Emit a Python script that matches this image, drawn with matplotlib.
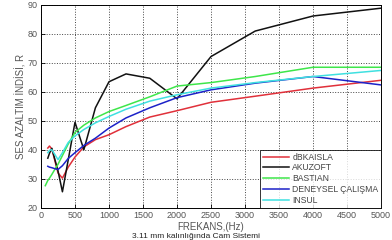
import numpy as np
import matplotlib
matplotlib.use('Agg')
import matplotlib.pyplot as plt

plt.rcParams['font.family'] = ['Liberation Sans', 'DejaVu Sans']

# 1/3 oktav frekanslari
frek = [100, 125, 160, 200, 250, 315, 400, 500, 630, 800, 1000, 1250, 1600, 2000, 2500, 3150, 4000, 5000]
frek_bastian = [63] + frek

dbkaisla = [40.6, 41.3, 40.2, 36.6, 32.0, 30.2, 34.0, 37.5, 41.0, 43.5, 45.2, 48.0, 51.3, 53.5, 56.4, 58.5, 61.3, 64.0]
akuzoft = [37.1, 38.8, 40.5, 37.0, 32.7, 25.5, 36.5, 49.5, 40.0, 54.5, 63.5, 66.2, 64.7, 57.6, 72.2, 81.0, 86.2, 88.9]
bastian = [27.6, 29.4, 30.2, 31.5, 33.1, 35.0, 38.0, 42.0, 46.0, 48.5, 51.0, 53.2, 55.3, 58.3, 62.0, 63.2, 65.3, 68.5, 68.5]
deneysel = [34.3, 34.0, 33.8, 33.5, 33.2, 34.5, 37.0, 39.0, 41.5, 44.0, 47.5, 51.0, 54.5, 58.0, 60.7, 63.0, 65.3, 62.4]
insul = [39.0, 39.8, 40.0, 38.5, 36.6, 39.0, 42.5, 44.8, 47.0, 49.3, 51.5, 54.0, 56.8, 59.0, 61.3, 63.2, 65.3, 67.4]

xticks = np.arange(0, 5001, 500)
yticks = np.arange(20, 91, 10)

fig = plt.figure(figsize=(3.92, 2.40), dpi=100)
ax = fig.add_axes([0.1046, 0.1346, 0.8674, 0.8446])

ax.plot(frek, dbkaisla, color='#e0303a', lw=1.1, label='dBKAISLA')
ax.plot(frek, akuzoft, color='#111111', lw=1.1, label='AKUZOFT')
ax.plot(frek_bastian, bastian, color='#3ee64a', lw=1.1, label='BASTIAN')
ax.plot(frek, deneysel, color='#1c22c8', lw=1.1, label='DENEYSEL ÇALIŞMA')
ax.plot(frek, insul, color='#3fe0e0', lw=1.1, label='INSUL')

ax.set_xlim(0, 5000)
ax.set_ylim(20, 90)
ax.set_xticks(xticks)
ax.set_yticks(yticks)
ax.tick_params(direction='in', labelsize=6.5, labelcolor='#555555', length=3, width=0.6, pad=2.5)
ax.grid(True, linestyle=':', color='#444444', lw=0.7)
for s in ax.spines.values():
    s.set_linewidth(0.7)

ax.set_xlabel('FREKANS,(Hz)', fontsize=7, color='#555555', labelpad=1)
ax.set_ylabel('SES AZALTIM İNDİSİ, R', fontsize=7, color='#555555', labelpad=1)

leg = ax.legend(loc='lower right', fontsize=6.2, handlelength=3.0, borderpad=0.3,
                labelspacing=0.22, handletextpad=0.4, frameon=True, fancybox=False,
                borderaxespad=0)
leg.get_frame().set_edgecolor('black')
leg.get_frame().set_linewidth(0.7)
for t in leg.get_texts():
    t.set_color('#444444')

fig.text(0.5, 0.0, '3.11 mm kalınlığında Cam Sistemi', ha='center', va='bottom',
         fontsize=6, color='#222222')

fig.savefig('out.png', dpi=100)
